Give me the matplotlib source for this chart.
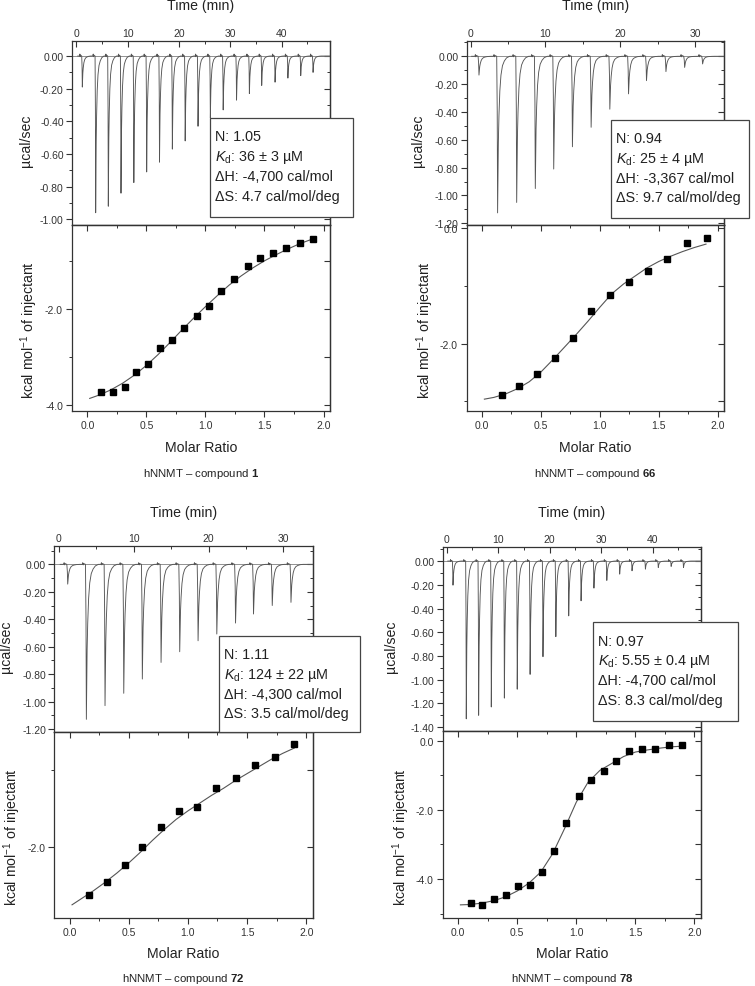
import numpy as np
import matplotlib
matplotlib.use('Agg')
import matplotlib.pyplot as plt
from matplotlib.ticker import MultipleLocator, FormatStrFormatter
from matplotlib.patches import Rectangle

plt.rcParams['font.family'] = ['Liberation Sans', 'DejaVu Sans']
plt.rcParams['mathtext.fontset'] = 'custom'
plt.rcParams['mathtext.rm'] = 'Liberation Sans'
plt.rcParams['mathtext.it'] = 'Liberation Sans:italic'
plt.rcParams['mathtext.bf'] = 'Liberation Sans:bold'
plt.rcParams['axes.unicode_minus'] = False

# ---- raw thermograms: time of each peak minimum (min) and its depth (ucal/sec)
p1_peak_t = [1.17, 3.77, 6.23, 8.7, 11.2, 13.7, 16.2, 18.7, 21.2, 23.7, 26.1, 28.6,
             31.2, 33.7, 36.1, 38.7, 41.2, 43.7, 46.1]
p1_peak_y = [-0.19, -0.96, -0.92, -0.84, -0.775, -0.71, -0.65, -0.57, -0.52, -0.43,
             -0.38, -0.33, -0.27, -0.23, -0.18, -0.16, -0.135, -0.12, -0.10]
p2_peak_t = [1.11, 3.6, 6.15, 8.64, 11.1, 13.6, 16.1, 18.6, 21.1, 23.5, 26.1, 28.6, 31.0]
p2_peak_y = [-0.135, -1.125, -1.05, -0.95, -0.81, -0.65, -0.51, -0.38, -0.27, -0.175,
             -0.11, -0.08, -0.055]
p3_peak_t = [1.2, 3.69, 6.18, 8.68, 11.16, 13.66, 16.15, 18.6, 21.1, 23.6, 26.0, 28.5, 31.0]
p3_peak_y = [-0.144, -1.13, -1.03, -0.94, -0.836, -0.715, -0.637, -0.557, -0.508,
             -0.428, -0.362, -0.30, -0.277]
p4_peak_t = [1.22, 3.8, 6.2, 8.66, 11.2, 13.7, 16.2, 18.7, 21.2, 23.7, 26.1, 28.6,
             31.1, 33.6, 36.0, 38.6, 41.1, 43.6, 46.0]
p4_peak_y = [-0.203, -1.33, -1.30, -1.23, -1.155, -1.08, -0.955, -0.806, -0.637, -0.462,
             -0.335, -0.228, -0.163, -0.11, -0.082, -0.068, -0.054, -0.045, -0.054]

# peak profile (min relative to the minimum, fraction of depth)
shape_dt = [-0.12, -0.05, 0.0, 0.05, 0.1, 0.18, 0.3, 0.45, 0.65, 0.9, 1.2, 1.6]
shape_fr = [0.0, 0.35, 1.0, 0.75, 0.55, 0.38, 0.22, 0.12, 0.06, 0.03, 0.01, 0.0]
wiggle_dt = [-0.55, -0.48, -0.42, -0.36]
wiggle_y = [0.0, 0.012, -0.004, 0.006]

# ---- integrated heats (kcal/mol of injectant) vs molar ratio
p1_ratio = [0.116, 0.215, 0.315, 0.414, 0.513, 0.618, 0.72, 0.822, 0.929, 1.034, 1.136,
            1.246, 1.357, 1.465, 1.575, 1.686, 1.799, 1.912]
p1_heat = [-3.74, -3.73, -3.64, -3.31, -3.15, -2.82, -2.65, -2.39, -2.14, -1.94, -1.62,
           -1.38, -1.10, -0.94, -0.83, -0.72, -0.61, -0.53]
p2_ratio = [0.169, 0.316, 0.466, 0.615, 0.771, 0.926, 1.085, 1.246, 1.407, 1.570, 1.737, 1.907]
p2_heat = [-2.88, -2.74, -2.53, -2.25, -1.90, -1.44, -1.16, -0.94, -0.74, -0.54, -0.265, -0.18]
p3_ratio = [0.163, 0.313, 0.465, 0.614, 0.769, 0.924, 1.079, 1.24, 1.403, 1.566, 1.733, 1.899]
p3_heat = [-2.62, -2.45, -2.23, -1.99, -1.74, -1.53, -1.48, -1.24, -1.11, -0.94, -0.83, -0.67]
p4_ratio = [0.110, 0.206, 0.305, 0.404, 0.503, 0.607, 0.709, 0.811, 0.915, 1.02, 1.124,
            1.232, 1.339, 1.449, 1.559, 1.669, 1.785, 1.896]
p4_heat = [-4.70, -4.74, -4.58, -4.47, -4.21, -4.17, -3.80, -3.19, -2.37, -1.61, -1.14,
           -0.87, -0.59, -0.30, -0.25, -0.24, -0.115, -0.125]

# ---- fitted curves
fit_x = [0.02, 0.1, 0.2, 0.3, 0.4, 0.5, 0.6, 0.7, 0.8, 0.9, 1.0, 1.1, 1.2, 1.3, 1.4,
         1.5, 1.6, 1.7, 1.8, 1.9]
p1_fit = [-3.87, -3.80, -3.69, -3.55, -3.38, -3.18, -2.95, -2.70, -2.44, -2.19, -1.95,
          -1.72, -1.50, -1.31, -1.14, -0.99, -0.86, -0.74, -0.63, -0.54]
p2_fit = [-2.96, -2.93, -2.87, -2.78, -2.66, -2.49, -2.28, -2.06, -1.84, -1.61, -1.37,
          -1.14, -0.97, -0.83, -0.69, -0.58, -0.49, -0.41, -0.34, -0.28]
p3_fit = [-2.74, -2.66, -2.56, -2.45, -2.33, -2.20, -2.06, -1.91, -1.77, -1.64, -1.53,
          -1.43, -1.33, -1.24, -1.14, -1.05, -0.96, -0.87, -0.79, -0.72]
p4_fit = [-4.75, -4.74, -4.70, -4.63, -4.52, -4.35, -4.12, -3.80, -3.27, -2.55, -1.78,
          -1.20, -0.86, -0.66, -0.46, -0.33, -0.27, -0.22, -0.18, -0.16]

# ---- fit parameters shown in the boxes and captions
p1_text = ["N: 1.05", r"$K_\mathrm{d}$: 36 ± 3 µM", "ΔH: -4,700 cal/mol", "ΔS: 4.7 cal/mol/deg"]
p2_text = ["N: 0.94", r"$K_\mathrm{d}$: 25 ± 4 µM", "ΔH: -3,367 cal/mol", "ΔS: 9.7 cal/mol/deg"]
p3_text = ["N: 1.11", r"$K_\mathrm{d}$: 124 ± 22 µM", "ΔH: -4,300 cal/mol", "ΔS: 3.5 cal/mol/deg"]
p4_text = ["N: 0.97", r"$K_\mathrm{d}$: 5.55 ± 0.4 µM", "ΔH: -4,700 cal/mol", "ΔS: 8.3 cal/mol/deg"]
compounds = ["1", "66", "72", "78"]

W, H = 755, 987
fig = plt.figure(figsize=(W / 100, H / 100), dpi=100)
INK = '#333333'
TXT = '#222222'
TICK = 7.5
LAB = 10.2


def rect(x0, y0, x1, y1):
    # pixel box (top-left origin) -> figure fraction
    return [x0 / W, 1 - y1 / H, (x1 - x0) / W, (y1 - y0) / H]


def fx(x):
    return x / W


def fy(y):
    return 1 - y / H


def trace(peak_t, peak_y, t0, t1):
    t, y = [t0], [0.0]
    for tp, d in zip(peak_t, peak_y):
        t += [tp + dt for dt in wiggle_dt]
        y += wiggle_y
        t += [tp + dt for dt in shape_dt]
        y += [d * f for f in shape_fr]
    t.append(t1)
    y.append(0.0)
    return t, y


def style(ax):
    for s in ax.spines.values():
        s.set_color(INK)
        s.set_linewidth(0.9)


panels = [
    dict(x=(72, 330), y=(41.7, 226, 412.3), tl=(-0.84, 49.4), ul=(-1.035, 0.094),
         hl=(-4.14, -0.24), span=(0.27, 49.4), pk=(p1_peak_t, p1_peak_y),
         pts=(p1_ratio, p1_heat), fit=p1_fit, txt=p1_text, box=(210, 119, 353.3, 217.7),
         lab=(26, 29.3), tlab=6, mlab=447.7, cap=474),
    dict(x=(466.7, 724.3), y=(41.7, 226, 412.3), tl=(-0.53, 33.9), ul=(-1.212, 0.112),
         hl=(-3.17, 0.05), span=(0.13, 33.9), pk=(p2_peak_t, p2_peak_y),
         pts=(p2_ratio, p2_heat), fit=p2_fit, txt=p2_text, box=(611, 120.7, 749, 219.3),
         lab=(418.3, 425), tlab=6, mlab=447.7, cap=474),
    dict(x=(54.3, 312.7), y=(546.7, 732.7, 919), tl=(-0.59, 33.9), ul=(-1.22, 0.136),
         hl=(-2.91, -0.51), span=(0.2, 33.9), pk=(p3_peak_t, p3_peak_y),
         pts=(p3_ratio, p3_heat), fit=p3_fit, txt=p3_text, box=(219.3, 636.7, 360, 732.7),
         lab=(6.5, 12.5), tlab=512.7, mlab=954, cap=978.8),
    dict(x=(442.7, 701), y=(547.7, 732.3, 919), tl=(-0.78, 49.4), ul=(-1.435, 0.121),
         hl=(-5.13, 0.27), span=(0.2, 49.4), pk=(p4_peak_t, p4_peak_y),
         pts=(p4_ratio, p4_heat), fit=p4_fit, txt=p4_text, box=(592.7, 623.3, 737.7, 721.7),
         lab=(391, 401), tlab=512.7, mlab=954, cap=978.8),
]

for i, p in enumerate(panels):
    x0, x1 = p['x']
    ya, yb, yc = p['y']
    xc = (x0 + x1) / 2

    # ---------- thermogram
    ax = fig.add_axes(rect(x0, ya, x1, yb))
    style(ax)
    t, y = trace(p['pk'][0], p['pk'][1], *p['span'])
    ax.axhline(0, color='#808080', lw=0.6, zorder=1)
    ax.plot(t, y, color='#555555', lw=0.65, zorder=2)
    ax.set_xlim(*p['tl'])
    ax.set_ylim(*p['ul'])
    ax.xaxis.set_major_locator(MultipleLocator(10))
    ax.xaxis.set_minor_locator(MultipleLocator(5))
    ax.yaxis.set_major_locator(MultipleLocator(0.2))
    ax.yaxis.set_minor_locator(MultipleLocator(0.1))
    ax.yaxis.set_major_formatter(FormatStrFormatter('%.2f'))
    ax.tick_params(axis='x', which='both', direction='in', top=True, bottom=False,
                   labeltop=True, labelbottom=False, colors=INK, labelsize=TICK, pad=2)
    ax.tick_params(axis='y', which='both', direction='out', left=True, right=False,
                   colors=INK, labelsize=TICK, pad=2)
    ax.tick_params(which='major', length=4, width=0.8)
    ax.tick_params(which='minor', length=2.5, width=0.7)
    sec = ax.secondary_yaxis('right')
    sec.yaxis.set_major_locator(MultipleLocator(0.2))
    sec.yaxis.set_minor_locator(MultipleLocator(0.1))
    sec.tick_params(which='both', direction='in', labelright=False, colors=INK)
    sec.tick_params(which='major', length=4, width=0.8)
    sec.tick_params(which='minor', length=2.5, width=0.7)
    style(sec)

    fig.text(fx(xc), fy(p['tlab']), 'Time (min)', ha='center', va='center',
             fontsize=LAB, color=TXT)
    fig.text(fx(p['lab'][0]), fy((ya + yb) / 2 + 7), 'µcal/sec', rotation=90,
             ha='center', va='center', fontsize=LAB, color=TXT)

    # ---------- integrated heats
    bx = fig.add_axes(rect(x0, yb, x1, yc))
    style(bx)
    bx.plot(fit_x, p['fit'], color='#555555', lw=0.8, zorder=2)
    bx.plot(p['pts'][0], p['pts'][1], 's', color='black', ms=4.6, zorder=3)
    bx.set_xlim(-0.13, 2.055)
    bx.set_ylim(*p['hl'])
    bx.xaxis.set_major_locator(MultipleLocator(0.5))
    bx.xaxis.set_minor_locator(MultipleLocator(0.25))
    bx.yaxis.set_major_locator(MultipleLocator(2.0))
    bx.yaxis.set_minor_locator(MultipleLocator(1.0))
    bx.xaxis.set_major_formatter(FormatStrFormatter('%.1f'))
    bx.yaxis.set_major_formatter(FormatStrFormatter('%.1f'))
    bx.tick_params(which='both', direction='out', top=False, right=False,
                   colors=INK, labelsize=TICK, pad=2.5)
    bx.tick_params(which='major', length=4, width=0.8)
    bx.tick_params(which='minor', length=2.5, width=0.7)
    sx = bx.secondary_xaxis('top')
    sx.xaxis.set_major_locator(MultipleLocator(0.5))
    sx.xaxis.set_minor_locator(MultipleLocator(0.25))
    sx.tick_params(which='both', direction='in', labeltop=False, colors=INK)
    sx.tick_params(which='major', length=4, width=0.8)
    sx.tick_params(which='minor', length=2.5, width=0.7)
    style(sx)
    sy = bx.secondary_yaxis('right')
    sy.yaxis.set_major_locator(MultipleLocator(2.0))
    sy.yaxis.set_minor_locator(MultipleLocator(1.0))
    sy.tick_params(which='both', direction='in', labelright=False, colors=INK)
    sy.tick_params(which='major', length=4, width=0.8)
    sy.tick_params(which='minor', length=4, width=0.8)
    style(sy)

    fig.text(fx(p['lab'][1]), fy((yb + yc) / 2 + 11), r'kcal mol$^{-1}$ of injectant',
             rotation=90, ha='center', va='center', fontsize=LAB, color=TXT)
    fig.text(fx(xc), fy(p['mlab']), 'Molar Ratio', ha='center', va='center',
             fontsize=LAB, color=TXT)
    fig.text(fx(xc), fy(p['cap']), r'hNNMT – compound $\mathbf{%s}$' % compounds[i],
             ha='center', va='center', fontsize=8.2, color=TXT)

    # ---------- parameter box
    b0, b1, b2, b3 = p['box']
    fig.add_artist(Rectangle((fx(b0), fy(b3)), (b2 - b0) / W, (b3 - b1) / H,
                             transform=fig.transFigure, facecolor='white',
                             edgecolor='#444444', lw=0.9, zorder=5))
    for k, line in enumerate(p['txt']):
        fig.text(fx(b0 + 5), fy(b1 + 17.3 + 19.8 * k + 5), line, ha='left',
                 va='baseline', fontsize=10.4, color=TXT, zorder=6)

fig.savefig('out.png', dpi=100)
